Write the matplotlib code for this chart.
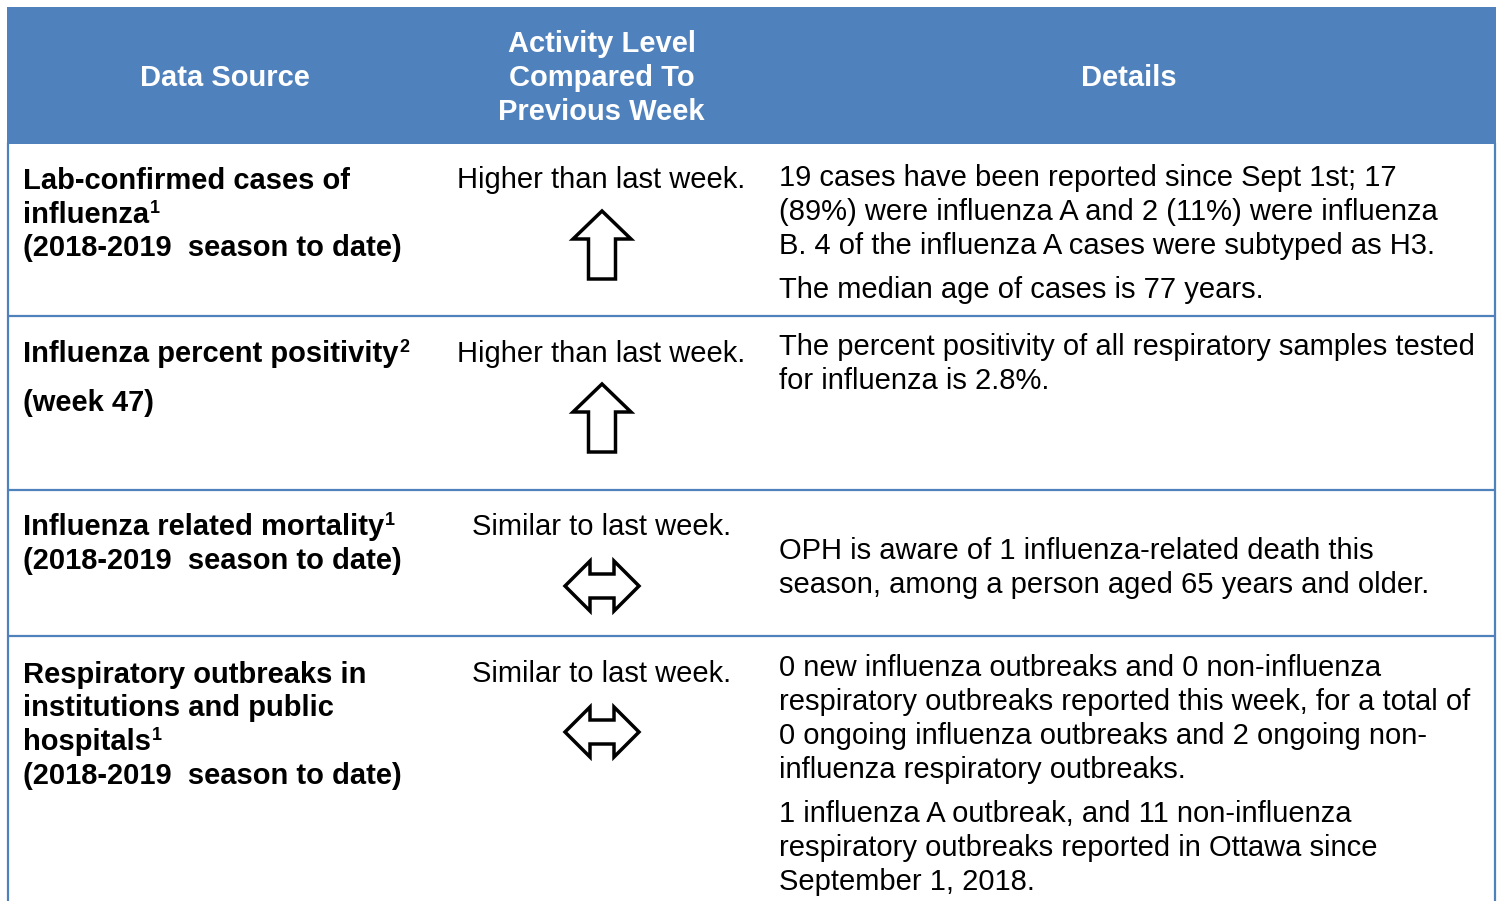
import matplotlib
matplotlib.use("Agg")
import matplotlib.pyplot as plt
from matplotlib.patches import Rectangle, Polygon

plt.rcParams['font.family'] = ['Liberation Sans', 'DejaVu Sans']

# ---------------- table content ----------------
HEADERS = ["Data Source", "Activity Level\nCompared To\nPrevious Week", "Details"]

# each source line: (text, superscript)
SOURCES = [
    [("Lab-confirmed cases of", ""), ("influenza", "1"), ("(2018-2019  season to date)", "")],
    [("Influenza percent positivity", "2"), ("(week 47)", "")],
    [("Influenza related mortality", "1"), ("(2018-2019  season to date)", "")],
    [("Respiratory outbreaks in", ""), ("institutions and public", ""), ("hospitals", "1"),
     ("(2018-2019  season to date)", "")],
]

ACTIVITY = ["Higher than last week.", "Higher than last week.",
            "Similar to last week.", "Similar to last week."]
TREND = ["up", "up", "same", "same"]

DETAILS = [
    [["19 cases have been reported since Sept 1st; 17",
      "(89%) were influenza A and 2 (11%) were influenza",
      "B. 4 of the influenza A cases were subtyped as H3."],
     ["The median age of cases is 77 years."]],
    [["The percent positivity of all respiratory samples tested",
      "for influenza is 2.8%."]],
    [["OPH is aware of 1 influenza-related death this",
      "season, among a person aged 65 years and older."]],
    [["0 new influenza outbreaks and 0 non-influenza",
      "respiratory outbreaks reported this week, for a total of",
      "0 ongoing influenza outbreaks and 2 ongoing non-",
      "influenza respiratory outbreaks."],
     ["1 influenza A outbreak, and 11 non-influenza",
      "respiratory outbreaks reported in Ottawa since",
      "September 1, 2018."]],
]

# ---------------- layout (pixels) ----------------
W, H = 1501, 901
BLUE = "#4F81BD"
FS = 21
LINE = 34
X0, X1 = 8, 1495
COL_EDGES = [8, 441, 762, 1495]
HEAD_TOP, HEAD_BOT = 7, 144
ROW_TOPS = [144, 316, 490, 636]
SRC_BASE = [189, 362, 535, 683]
SRC_GAP = [[34, 33], [49], [34], [33, 34, 34]]
ACT_BASE = [188, 362, 535, 682]
ARROW_Y = [211, 384, 586, 732]
DET_BASE = [186, 355, 559, 676]
PARA_GAP = 44

fig = plt.figure(figsize=(W / 100, H / 100), dpi=100)
ax = fig.add_axes([0, 0, 1, 1])
ax.set_xlim(0, W)
ax.set_ylim(H, 0)
ax.axis("off")

# header band
ax.add_patch(Rectangle((7, HEAD_TOP), X1 - 6, HEAD_BOT - HEAD_TOP, color=BLUE, lw=0))
hx = [(COL_EDGES[i] + COL_EDGES[i + 1]) / 2 for i in range(3)]
ax.text(hx[0], 86, HEADERS[0], color="white", fontsize=FS, fontweight="bold",
        ha="center", va="baseline")
for k, ln in enumerate(HEADERS[1].split("\n")):
    ax.text(hx[1], 52 + k * LINE, ln, color="white", fontsize=FS, fontweight="bold",
            ha="center", va="baseline")
ax.text(hx[2], 86, HEADERS[2], color="white", fontsize=FS, fontweight="bold",
        ha="center", va="baseline")

# borders
for y in ROW_TOPS[1:]:
    ax.plot([X0, X1], [y, y], color=BLUE, lw=1.6, solid_capstyle="butt")
ax.plot([X0, X0], [HEAD_BOT, H], color=BLUE, lw=1.6)
ax.plot([X1, X1], [HEAD_BOT, H], color=BLUE, lw=1.6)

fig.canvas.draw()
renderer = fig.canvas.get_renderer()
inv = ax.transData.inverted()

# data source column
for r, lines in enumerate(SOURCES):
    y = SRC_BASE[r]
    for i, (txt, sup) in enumerate(lines):
        t = ax.text(23, y, txt, fontsize=FS, fontweight="bold", ha="left", va="baseline")
        if sup:
            bb = t.get_window_extent(renderer)
            xe = inv.transform((bb.x1, bb.y0))[0]
            ax.text(xe + 1, y - 10, sup, fontsize=13, fontweight="bold",
                    ha="left", va="baseline")
        if i < len(SRC_GAP[r]):
            y += SRC_GAP[r][i]


def up_arrow(cx, top):
    pts = [(cx, top), (cx + 29, top + 28), (cx + 13.5, top + 28), (cx + 13.5, top + 68),
           (cx - 13.5, top + 68), (cx - 13.5, top + 28), (cx - 29, top + 28)]
    ax.add_patch(Polygon(pts, closed=True, fc="white", ec="black", lw=2.5, joinstyle="miter"))


def both_arrow(cx, cy):
    pts = [(cx - 37, cy), (cx - 12, cy - 25), (cx - 12, cy - 12), (cx + 12, cy - 12),
           (cx + 12, cy - 25), (cx + 37, cy), (cx + 12, cy + 25), (cx + 12, cy + 12),
           (cx - 12, cy + 12), (cx - 12, cy + 25)]
    ax.add_patch(Polygon(pts, closed=True, fc="white", ec="black", lw=2.5, joinstyle="miter"))


# activity column
for r, txt in enumerate(ACTIVITY):
    ax.text(hx[1], ACT_BASE[r], txt, fontsize=FS, ha="center", va="baseline")
    if TREND[r] == "up":
        up_arrow(602, ARROW_Y[r])
    else:
        both_arrow(602, ARROW_Y[r])

# details column
for r, paras in enumerate(DETAILS):
    y = DET_BASE[r]
    for p, para in enumerate(paras):
        for ln in para:
            ax.text(779, y, ln, fontsize=FS, ha="left", va="baseline")
            y += LINE
        y += PARA_GAP - LINE

fig.savefig("out.png", dpi=100)
